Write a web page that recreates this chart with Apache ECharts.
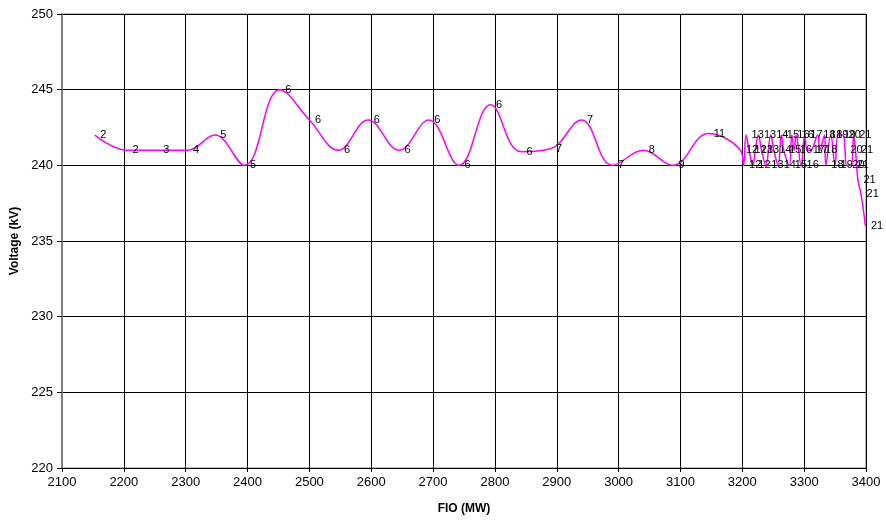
<!DOCTYPE html>
<html>
<head>
<meta charset="utf-8">
<script src="https://cdn.jsdelivr.net/npm/echarts@6/dist/echarts.min.js"></script>
<style>
  html, body { margin: 0; padding: 0; background: #fff; }
  #chart { width: 886px; height: 521px; }
</style>
</head>
<body>
<div id="chart"></div>
<script>
// FIO (MW) of each point, in drawing order
var fio = [2153, 2205, 2255, 2303, 2347, 2395, 2452, 2500, 2547, 2595, 2645, 2693, 2742, 2793, 2842, 2890, 2940, 2990, 3040, 3088, 3145,
    3197, 3202, 3206, 3211, 3217, 3221, 3226, 3231, 3238, 3246, 3251, 3258, 3263, 3267, 3276, 3280, 3284, 3287, 3295,
    3301, 3305, 3310, 3322, 3325, 3333, 3335, 3343, 3350, 3355, 3363, 3366, 3369, 3376, 3380, 3383, 3387, 3392, 3399]

// voltage (kV) of each point
var voltage = [242, 241, 241, 241, 242, 240, 245, 243, 241, 243, 241, 243, 240, 244, 240.9, 241.1, 243, 240, 241, 240, 242.1,
    241, 240, 242, 241, 240, 241, 242, 241, 240, 242, 241, 240, 242, 241, 240, 242, 241, 242, 240,
    242, 241, 241, 242, 241, 242, 240, 242, 240, 242, 242, 241, 240, 240, 242, 241, 239, 238.1, 236]

// data label of each point
var pointLabels = ['2', '2', '3', '4', '5', '5', '6', '6', '6', '6', '6', '6', '6', '6', '6', '7', '7', '7', '8', '9', '11',
    '12', '12', '13', '12', '12', '13', '13', '13', '13', '14', '14', '14', '15', '15', '15', '16', '16', '16', '16',
    '17', '17', '17', '18', '18', '18', '18', '19', '19', '19', '20', '20', '20', '21', '21', '21', '21', '21', '21']

var xTicks = { min: 2100, max: 3400, step: 100 }
var yTicks = { min: 220, max: 250, step: 5 }

function getChart(ele){
    var chart = echarts.init(ele)

    var points = []
    for (let i = 0; i < fio.length; i++){
        points.push([fio[i], voltage[i], pointLabels[i]])
    }

    var option = {
        animation: false,
        backgroundColor: '#fff',
        textStyle: { fontFamily: 'Liberation Sans, Arial, sans-serif' },
        grid: {
            left: 62, right: 20, top: 14, bottom: 53,
            show: true,
            borderColor: '#808080',
            borderWidth: 1
        },
        xAxis: {
            type: 'value',
            min: xTicks.min, max: xTicks.max, interval: xTicks.step,
            name: 'FIO (MW)',
            nameLocation: 'middle',
            nameGap: 35,
            nameTextStyle: { fontWeight: 'bold', fontSize: 12, color: '#000' },
            axisLine: { lineStyle: { color: '#000', width: 1 } },
            axisTick: { show: true, length: 4, lineStyle: { color: '#000' } },
            axisLabel: { color: '#000', fontSize: 13, margin: 8, formatter: function(v){ return String(v) } },
            splitLine: { show: true, lineStyle: { color: '#000', width: 1 } }
        },
        yAxis: {
            type: 'value',
            min: yTicks.min, max: yTicks.max, interval: yTicks.step,
            name: 'Voltage (kV)',
            nameLocation: 'middle',
            nameGap: 28,
            nameTextStyle: { fontWeight: 'bold', fontSize: 12, color: '#000' },
            axisLine: { show: true, lineStyle: { color: '#808080', width: 2 } },
            axisTick: { show: true, length: 5, lineStyle: { color: '#000' } },
            axisLabel: { color: '#000', fontSize: 13, margin: 9 },
            splitLine: { show: true, lineStyle: { color: '#000', width: 1 } }
        },
        series: [
            {
                type: 'line',
                data: points,
                smooth: 0.4,
                showSymbol: true,
                showAllSymbol: true,
                symbol: 'circle',
                symbolSize: 1,
                itemStyle: { color: 'rgba(255,0,255,0)' },
                lineStyle: { color: '#ff00ff', width: 1.5 },
                labelLayout: { hideOverlap: false },
                label: {
                    show: true,
                    position: 'right',
                    distance: 5,
                    color: '#000',
                    fontSize: 11,
                    formatter: function(p){ return p.data[2] }
                }
            }
        ]
    }
    chart.setOption(option)
}

getChart(document.getElementById('chart'))
</script>
</body>
</html>
